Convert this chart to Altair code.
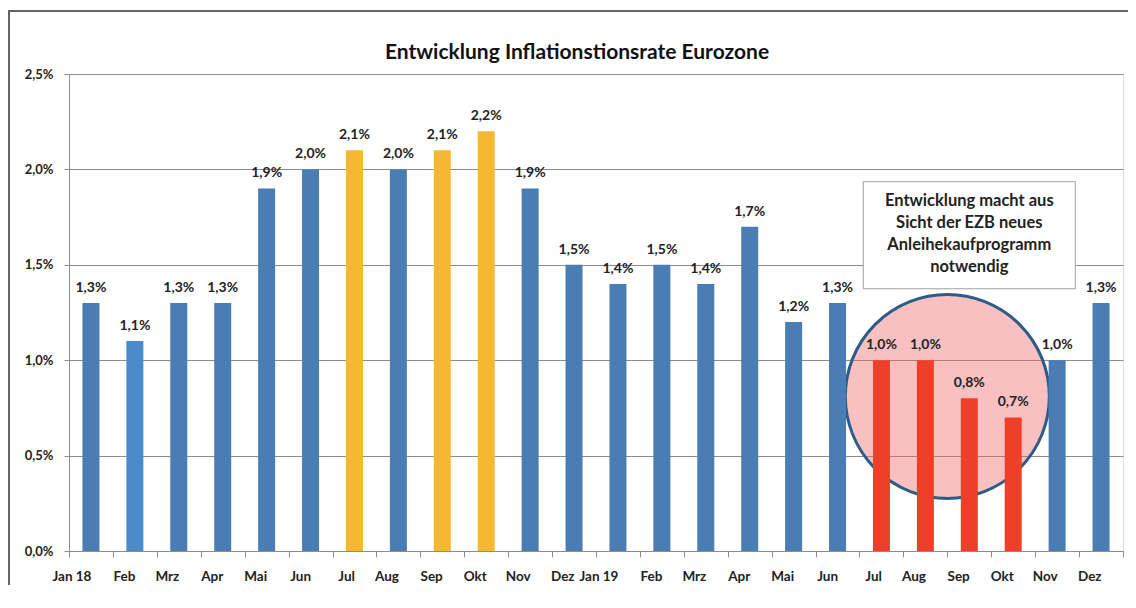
import json
import altair as alt
import pandas as pd

# ---- data ----
month_labels = ["Jan 18", "Feb", "Mrz", "Apr", "Mai", "Jun", "Jul", "Aug", "Sep", "Okt", "Nov", "Dez",
                "Jan 19", "Feb", "Mrz", "Apr", "Mai", "Jun", "Jul", "Aug", "Sep", "Okt", "Nov", "Dez"]
rates = [1.3, 1.1, 1.3, 1.3, 1.9, 2.0, 2.1, 2.0, 2.1, 2.2, 1.9, 1.5,
         1.4, 1.5, 1.4, 1.7, 1.2, 1.3, 1.0, 1.0, 0.8, 0.7, 1.0, 1.3]
groups = ["blau", "hellblau", "blau", "blau", "blau", "blau", "gelb", "blau", "gelb", "gelb", "blau", "blau",
          "blau", "blau", "blau", "blau", "blau", "blau", "rot", "rot", "rot", "rot", "blau", "blau"]
y_ticks = [0.0, 0.5, 1.0, 1.5, 2.0, 2.5]

title_text = "Entwicklung Inflationstionsrate Eurozone"
note_lines = ["Entwicklung macht aus", "Sicht der EZB neues", "Anleihekaufprogramm", "notwendig"]
note_month = 20      # Sep 19
note_value = 1.655
circle_month = 19    # right edge of Aug 19 band
circle_value = 0.81

df = pd.DataFrame({
    "i": list(range(len(rates))),
    "rate": rates,
    "group": groups,
    "label": [f"{v:.1f}".replace(".", ",") + "%" for v in rates],
})
note_df = pd.DataFrame({"i": [note_month], "rate": [note_value], "text": [note_lines]})
circle_df = pd.DataFrame({"i": [circle_month], "rate": [circle_value]})
frame_df = pd.DataFrame({"f": [0]})

FONT = "Lato"
label_expr = json.dumps(month_labels) + "[datum.value]"

x_enc = alt.X("i:O", sort="ascending",
              scale=alt.Scale(paddingInner=0, paddingOuter=0),
              axis=alt.Axis(title=None, labelExpr=label_expr, labelAngle=0,
                            tickBand="extent", tickSize=6, tickColor="#8c8c8c",
                            domainColor="#8c8c8c", labelPadding=19,
                            labelFont=FONT, labelFontSize=13.5, labelFontWeight="bold",
                            labelColor="#222222", grid=False))
y_scale = alt.Scale(domain=[0, 2.5], nice=False)
y_enc = alt.Y("rate:Q", scale=y_scale,
              axis=alt.Axis(title=None, values=y_ticks,
                            labelExpr="replace(format(datum.value, '.1f'), '.', ',') + '%'",
                            tickSize=5, tickColor="#8c8c8c", domainColor="#8c8c8c",
                            gridColor="#8c8c8c", gridWidth=1, labelPadding=11,
                            labelFont=FONT, labelFontSize=13, labelFontWeight="bold",
                            labelColor="#222222"))

frame_top = alt.Chart(frame_df).mark_rule(stroke="#666666", strokeWidth=2, clip=False).encode(
    x=alt.value(-61), x2=alt.value(1070), y=alt.value(-63), y2=alt.value(-63)
)
frame_left = alt.Chart(frame_df).mark_rule(stroke="#666666", strokeWidth=2, clip=False).encode(
    x=alt.value(-60), x2=alt.value(-60), y=alt.value(-64), y2=alt.value(520)
)

circle = alt.Chart(circle_df).mark_point(
    shape="circle", filled=True, fill="#ee6a68", fillOpacity=0.42, opacity=1,
    stroke="#2e5c89", strokeWidth=3, strokeOpacity=1, size=204 * 204
).encode(x=alt.X("i:O", bandPosition=1), y=alt.Y("rate:Q", scale=y_scale))

bars = alt.Chart(df).mark_bar(size=17).encode(
    x=x_enc, y=y_enc,
    color=alt.Color("group:N", legend=None,
                    scale=alt.Scale(domain=["blau", "hellblau", "gelb", "rot"],
                                    range=["#4a7db3", "#4a8ccb", "#f6b731", "#ee3f2a"])),
)

labels = alt.Chart(df).mark_text(baseline="bottom", dy=-8, font=FONT, fontSize=14,
                                 fontWeight="bold", color="#222222").encode(
    x="i:O", y=alt.Y("rate:Q", scale=y_scale), text="label:N"
)

box = alt.Chart(note_df).mark_point(
    shape="M-1,-0.505L1,-0.505L1,0.505L-1,0.505Z", filled=True, fill="white", opacity=1,
    stroke="#a0a0a0", strokeWidth=1, size=212 * 212
).encode(x="i:O", y=alt.Y("rate:Q", scale=y_scale))

note = alt.Chart(note_df).mark_text(font=FONT, fontSize=16.5, fontWeight="bold", color="#222222",
                                    lineHeight=22, baseline="middle", align="center", dy=-34).encode(
    x="i:O", y=alt.Y("rate:Q", scale=y_scale), text="text"
)

chart = alt.layer(frame_top, frame_left, circle, bars, labels, box, note).properties(
    width=1054, height=477,
    title=alt.TitleParams(title_text, font=FONT, fontSize=21, fontWeight="bold", color="#111111",
                          anchor="middle", dx=-19, offset=-54),
    padding={"left": 61, "top": 66, "right": 5, "bottom": 34},
    autosize=alt.AutoSizeParams(type="none"),
).configure_view(strokeWidth=0).configure(background="white")

chart.save("out.html", embed_options={"renderer": "svg", "actions": False})
